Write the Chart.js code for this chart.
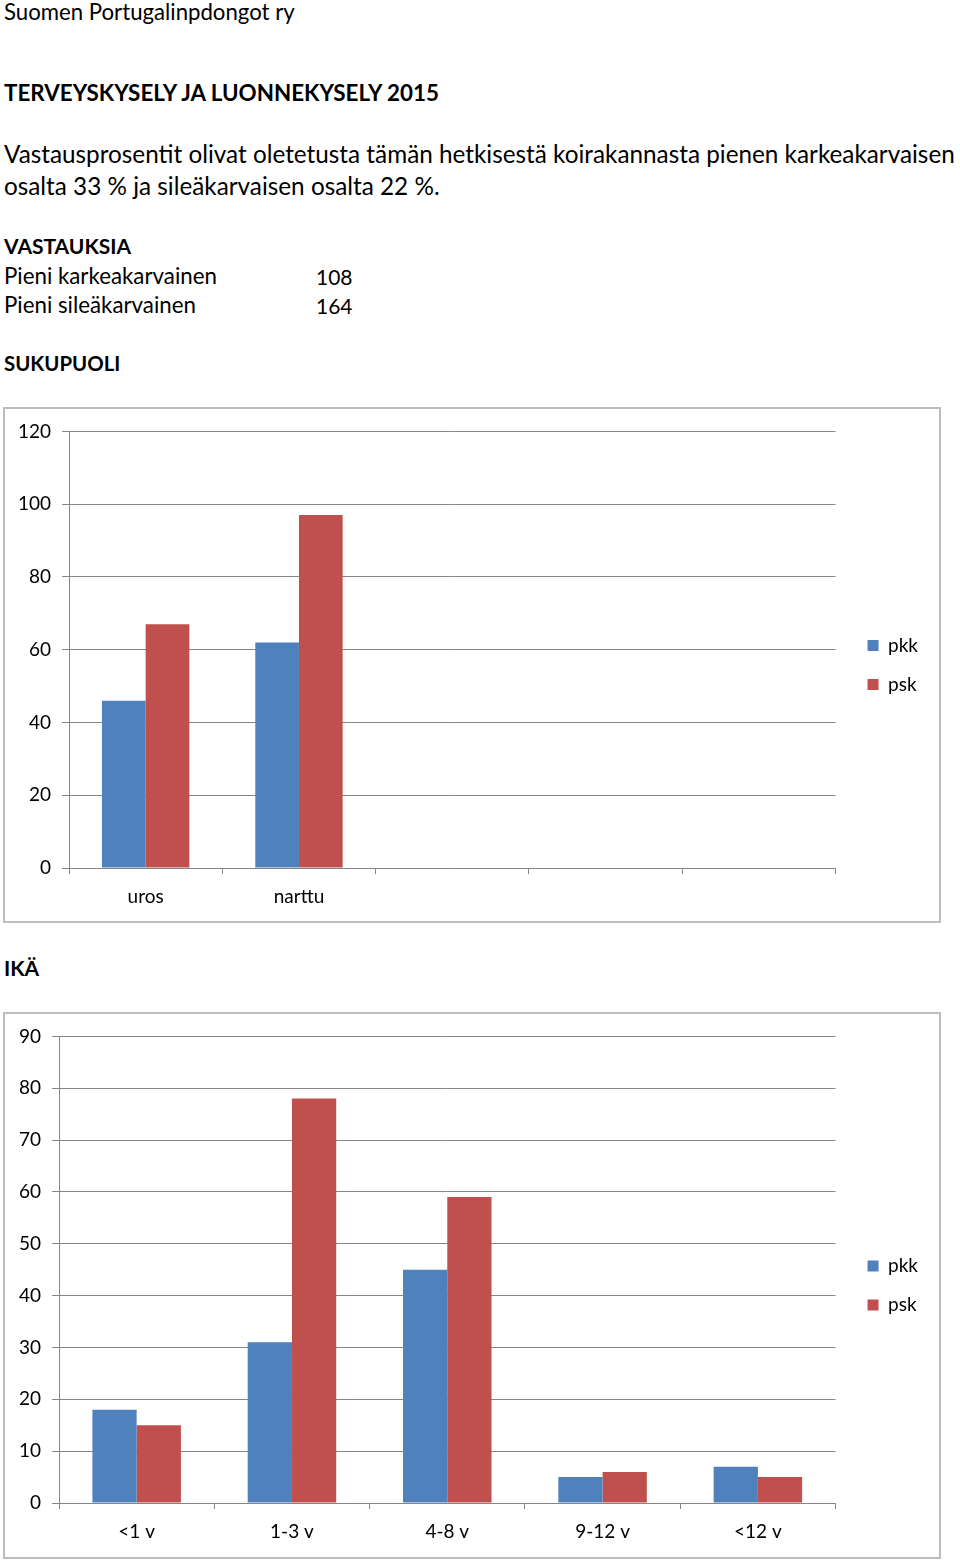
<!DOCTYPE html>
<html>
<head>
<meta charset="utf-8">
<script src="https://cdn.jsdelivr.net/npm/chart.js@4"></script>
<style>
  body { margin: 0; background: #fff; font-family: Lato, "Open Sans", sans-serif; color: #000; }
  .page { position: relative; width: 960px; height: 1562px; overflow: hidden; }
  .t { position: absolute; left: 4px; white-space: nowrap; line-height: 1.2; }
  .b { font-weight: bold; }
  .box { position: absolute; left: 3px; width: 934px; border: 2px solid #bdbdbd; }
  .box canvas { display: block; }
</style>
</head>
<body>
<div class="page">
  <div class="t" style="top:-1px;font-size:22.2px">Suomen Portugalinpdongot ry</div>
  <div class="t b" style="top:80px;font-size:22.4px">TERVEYSKYSELY JA LUONNEKYSELY 2015</div>
  <div class="t" style="top:139px;font-size:24.3px">Vastausprosentit olivat oletetusta tämän hetkisestä koirakannasta pienen karkeakarvaisen</div>
  <div class="t" style="top:171px;font-size:24.3px">osalta 33 % ja sileäkarvaisen osalta 22 %.</div>
  <div class="t b" style="top:233px;font-size:21px">VASTAUKSIA</div>
  <div class="t" style="top:263px;font-size:22.3px">Pieni karkeakarvainen</div>
  <div class="t" style="top:264px;left:316px;font-size:21px">108</div>
  <div class="t" style="top:292px;font-size:22.3px">Pieni sileäkarvainen</div>
  <div class="t" style="top:293px;left:316px;font-size:21px">164</div>
  <div class="t b" style="top:351px;font-size:20.4px">SUKUPUOLI</div>
  <div class="t b" style="top:955px;font-size:21px">IKÄ</div>

  <div class="box" style="top:407px;height:512px"><canvas id="sexChart" width="934" height="512"></canvas></div>
  <div class="box" style="top:1012px;height:543px"><canvas id="ageChart" width="934" height="543"></canvas></div>
</div>

<script>
// Chart data
const seriesNames = ['pkk', 'psk'];

const sexLabels = ['uros', 'narttu', '', '', ''];
const sexPkk = [46, 62, null, null, null];
const sexPsk = [67, 97, null, null, null];
const sexTicks = { min: 0, max: 120, step: 20 };

const ageLabels = ['<1 v', '1-3 v', '4-8 v', '9-12 v', '<12 v'];
const agePkk = [18, 31, 45, 5, 7];
const agePsk = [15, 78, 59, 6, 5];
const ageTicks = { min: 0, max: 90, step: 10 };

const colors = {
    blue: '#4F81BD',
    red: '#C0504D',
    grid: '#868686'
};

const fontFamily = 'Lato, "Open Sans", sans-serif';

// invisible strip used only to reserve space
function spacer(position, size) {
    return {
        type: 'linear',
        position: position,
        grid: { display: false },
        ticks: { display: false },
        border: { display: false },
        afterFit: function(scale) {
            if (position === 'top') scale.height = size;
            else scale.width = size;
        }
    };
}

function makeChart(id, labels, pkk, psk, yRange, yWidth, xHeight, topGap) {
    const ctx = document.getElementById(id).getContext('2d');
    return new Chart(ctx, {
        type: 'bar',
        data: {
            labels: labels,
            datasets: [
                { label: seriesNames[0], data: pkk, backgroundColor: colors.blue, categoryPercentage: 0.57, barPercentage: 1 },
                { label: seriesNames[1], data: psk, backgroundColor: colors.red, categoryPercentage: 0.57, barPercentage: 1 }
            ]
        },
        options: {
            responsive: false,
            animation: false,
            layout: { padding: { top: 0, right: 11, bottom: 0, left: 0 } },
            plugins: {
                legend: {
                    position: 'right',
                    labels: {
                        boxWidth: 11,
                        boxHeight: 11,
                        padding: 20,
                        color: '#000',
                        font: { family: fontFamily, size: 19 }
                    }
                },
                tooltip: { enabled: false }
            },
            scales: {
                x: {
                    grid: {
                        offset: true,
                        drawOnChartArea: false,
                        drawTicks: true,
                        tickLength: 6,
                        color: colors.grid
                    },
                    border: { color: colors.grid },
                    ticks: {
                        color: '#000',
                        padding: 11,
                        maxRotation: 0,
                        font: { family: fontFamily, size: 19 }
                    },
                    afterFit: function(scale) { scale.height = xHeight; }
                },
                y: {
                    min: yRange.min,
                    max: yRange.max,
                    grid: { color: colors.grid, tickLength: 7 },
                    border: { color: colors.grid },
                    ticks: {
                        stepSize: yRange.step,
                        color: '#000',
                        padding: 11,
                        font: { family: fontFamily, size: 19 }
                    },
                    afterFit: function(scale) { scale.width = yWidth; }
                },
                gapTop: spacer('top', topGap),
                gapRight: spacer('right', 12)
            }
        }
    });
}

makeChart('sexChart', sexLabels, sexPkk, sexPsk, sexTicks, 64, 53, 22);
makeChart('ageChart', ageLabels, agePkk, agePsk, ageTicks, 54, 54, 21);
</script>
</body>
</html>
